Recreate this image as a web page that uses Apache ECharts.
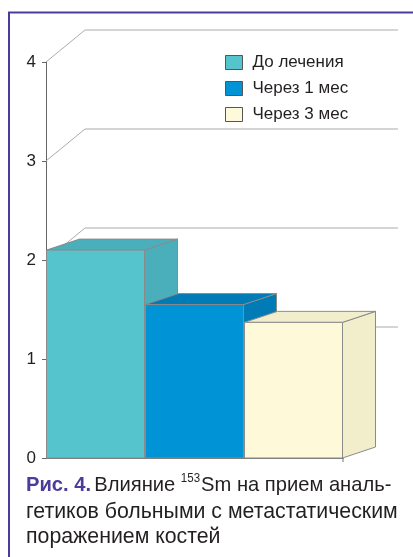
<!DOCTYPE html>
<html>
<head>
<meta charset="utf-8">
<script src="https://cdn.jsdelivr.net/npm/echarts@6/dist/echarts.min.js"></script>
<style>
html,body{margin:0;padding:0;background:#fff;}
#c{width:413px;height:557px;}
</style>
</head>
<body>
<div id="c"></div>
<script>
const categories = ['До лечения', 'Через 1 мес', 'Через 3 мес'];
const seriesNames = ['До лечения', 'Через 1 мес', 'Через 3 мес'];
const values = [2.1, 1.55, 1.37];
const yTicks = [1, 2, 3, 4];
const frontColors = ['#55c4cd', '#0093d5', '#fef9d9'];
const sideColors = ['#4aafba', '#007bb5', '#f2eecb'];

const FONT = '"Liberation Sans Narrow", "Liberation Sans", Arial, sans-serif';
const CFONT = '"Liberation Sans", Arial, sans-serif';
const DX = 33, DY = -11;      // bar depth offset
const WDX = 39, WDY = -32;    // back wall offset
const EDGE = '#8a8a8a';

function barRenderer(idx) {
  return function (params, api) {
    const cat = api.value(0), val = api.value(1);
    const top = api.coord([cat, val]);
    const base = api.coord([cat, 0]);
    const w = api.size([1, 0])[0];
    const x0 = top[0] - w / 2 + 0.5, x1 = top[0] + w / 2 - 0.5;
    const yT = top[1], yB = base[1];
    const st = { lineWidth: 1, stroke: EDGE };
    return {
      type: 'group',
      children: [
        { type: 'polygon', shape: { points: [[x1, yT], [x1 + DX, yT + DY], [x1 + DX, yB + DY], [x1, yB]] },
          style: Object.assign({ fill: sideColors[idx] }, st) },
        { type: 'polygon', shape: { points: [[x0, yT], [x1, yT], [x1 + DX, yT + DY], [x0 + DX, yT + DY]] },
          style: Object.assign({ fill: sideColors[idx] }, st) },
        { type: 'rect', shape: { x: x0, y: yT, width: x1 - x0, height: yB - yT },
          style: Object.assign({ fill: frontColors[idx] }, st) }
      ]
    };
  };
}

function wallRenderer(params, api) {
  const cs = params.coordSys;
  const y = api.coord([0, api.value(1)])[1];
  return {
    type: 'polyline',
    shape: { points: [[cs.x, y], [cs.x + WDX, y + WDY], [cs.x + cs.width + 55, y + WDY]] },
    style: { stroke: '#ababab', lineWidth: 1, fill: null }
  };
}

function axisEndTick(params, api) {
  const cs = params.coordSys;
  const y = api.coord([0, 0])[1];
  const x = cs.x + cs.width;
  return { type: 'line', shape: { x1: x, y1: y, x2: x, y2: y + 4 }, style: { stroke: '#777', lineWidth: 1 } };
}

const series = [{
  type: 'custom',
  name: 'wall',
  renderItem: wallRenderer,
  data: yTicks.map(v => [0, v]),
  encode: { x: 0, y: 1 },
  silent: true,
  z: 1
}, {
  type: 'custom',
  name: 'tick',
  renderItem: axisEndTick,
  data: [[0, 0]],
  encode: { x: 0, y: 1 },
  silent: true,
  z: 5
}];
seriesNames.forEach((n, i) => {
  series.push({
    type: 'custom',
    name: n,
    renderItem: barRenderer(i),
    data: [[i, values[i]]],
    encode: { x: 0, y: 1 },
    itemStyle: { color: frontColors[i] },
    z: 3
  });
});

const chart = echarts.init(document.getElementById('c'), null, { renderer: 'canvas' });
chart.setOption({
  animation: false,
  backgroundColor: '#fff',
  grid: { left: 46, right: 70, top: 62, bottom: 99 },
  legend: {
    orient: 'vertical',
    left: 220,
    top: 49,
    itemWidth: 17,
    itemHeight: 14,
    itemGap: 9,
    icon: 'rect',
    data: seriesNames.map((n, i) => ({ name: n, itemStyle: { color: frontColors[i], borderColor: '#555', borderWidth: 1 } })),
    textStyle: { fontFamily: FONT, fontSize: 17, color: '#231f20', padding: [0, 0, 0, 5] }
  },
  xAxis: {
    type: 'category',
    data: categories,
    boundaryGap: true,
    axisLine: { show: true, lineStyle: { color: '#777', width: 1 } },
    axisTick: { show: false },
    axisLabel: { show: false },
    splitLine: { show: false }
  },
  yAxis: {
    type: 'value',
    min: 0, max: 4, interval: 1,
    axisLine: { show: true, lineStyle: { color: '#666', width: 1 } },
    axisTick: { show: true, length: 4, lineStyle: { color: '#666' } },
    axisLabel: { fontFamily: FONT, fontSize: 17, color: '#231f20', margin: 10 },
    splitLine: { show: false }
  },
  series: series,
  graphic: [
    { type: 'line', shape: { x1: 8, y1: 12.5, x2: 413, y2: 12.5 }, style: { stroke: '#4b3c9c', lineWidth: 2 } },
    { type: 'line', shape: { x1: 9, y1: 12, x2: 9, y2: 557 }, style: { stroke: '#4b3c9c', lineWidth: 2 } },
    {
      type: 'text', x: 26, y: 473, scaleX: 0.96,
      style: {
        text: '{b|Рис. 4.} {n|Влияние }{s|153}{n|Sm на прием аналь-}',
        rich: {
          b: { fontFamily: CFONT, fontWeight: 'bold', fontSize: 21, fill: '#4b3c9c', lineHeight: 25 },
          n: { fontFamily: CFONT, fontSize: 21, fill: '#231f20', lineHeight: 25 },
          s: { fontFamily: CFONT, fontSize: 12, fill: '#231f20', lineHeight: 25, verticalAlign: 'top', padding: [0, 1, 10, 0] }
        }
      }
    },
    { type: 'text', x: 26, y: 502, style: { text: 'гетиков больными с метастатическим', fontFamily: CFONT, fontSize: 21.3, fill: '#231f20' } },
    { type: 'text', x: 26, y: 527, style: { text: 'поражением костей', fontFamily: CFONT, fontSize: 21.3, fill: '#231f20' } }
  ]
});
</script>
</body>
</html>
